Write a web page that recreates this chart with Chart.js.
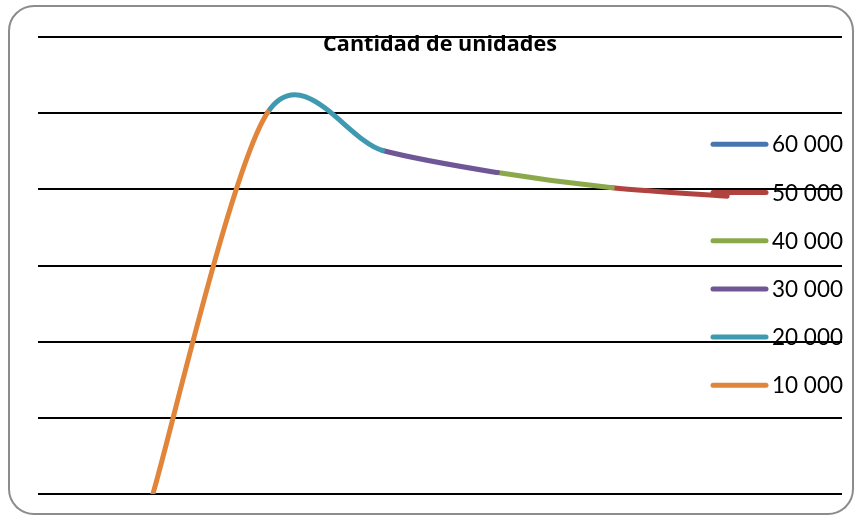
<!DOCTYPE html>
<html lang="es">
<head>
    <meta charset="UTF-8">
    <title>Cantidad de unidades</title>
    <script src="https://cdn.jsdelivr.net/npm/chart.js"></script>
    <style>
        body { margin: 0; background: #fff; }
        .wrap { position: relative; width: 859px; height: 518px; }
        .frame {
            position: absolute; left: 8px; top: 5px;
            width: 842px; height: 506px;
            border: 2px solid #8c8c8c; border-radius: 26px;
        }
        canvas { position: absolute; left: 0; top: 0; }
    </style>
</head>
<body>
    <div class="wrap">
        <div class="frame"></div>
        <canvas id="chart" width="859" height="518"></canvas>
    </div>

    <script>
        // Data (categories in source order; the x axis is shown reversed)
        const categories = ['60 000', '50 000', '40 000', '30 000', '20 000', '10 000'];
        const values = [39.1, 40.2, 42.2, 45.1, 50.1, 0];
        const colors = ['#4775b0', '#b0433f', '#8ba94b', '#6f5797', '#3f99b0', '#e0853a'];
        const yTicks = [0, 10, 20, 30, 40, 50, 60];
        const title = 'Cantidad de unidades';

        // Excel-like smoothing: uniform Catmull-Rom control points
        const excelSmooth = {
            id: 'excelSmooth',
            beforeDatasetDraw(chart, args) {
                const meta = args.meta;
                meta.dataset.updateControlPoints(chart.chartArea, meta.indexAxis);
                const pts = meta.data;
                pts.forEach((p, i) => {
                    const prev = pts[i - 1] || p;
                    const next = pts[i + 1] || p;
                    const dx = (next.x - prev.x) / 6.5;
                    const dy = (next.y - prev.y) / 6.5;
                    p.cp1x = p.x - dx; p.cp1y = p.y - dy;
                    p.cp2x = p.x + dx; p.cp2y = p.y + dy;
                });
            }
        };

        // Title and legend drawn over the plot, like the original
        const overlay = {
            id: 'overlay',
            afterDraw(chart) {
                const ctx = chart.ctx;
                ctx.save();
                ctx.fillStyle = '#000';
                ctx.font = 'bold 21.6px "Open Sans"';
                ctx.textAlign = 'center';
                ctx.textBaseline = 'alphabetic';
                ctx.fillText(title, 440, 51);

                ctx.font = '22.5px Lato';
                ctx.textAlign = 'left';
                ctx.lineCap = 'round';
                ctx.lineWidth = 5;
                categories.forEach((c, i) => {
                    const y = 144.3 + 48.2 * i;
                    ctx.strokeStyle = colors[i];
                    ctx.beginPath();
                    ctx.moveTo(713, y);
                    ctx.lineTo(766, y);
                    ctx.stroke();
                    ctx.fillText(c, 772, y + 8);
                });
                ctx.restore();
            }
        };

        new Chart(document.getElementById('chart'), {
            type: 'line',
            data: {
                labels: categories,
                datasets: [{
                    data: values.map((v, i) => ({ x: i + 1, y: v })),
                    borderWidth: 5,
                    borderCapStyle: 'round',
                    borderColor: colors[0],
                    tension: 0.4,
                    pointRadius: 0,
                    segment: {
                        borderColor: ctx => colors[ctx.p1DataIndex]
                    }
                }]
            },
            options: {
                responsive: false,
                animation: false,
                layout: { padding: { left: 38, right: 17, top: 37, bottom: 24 } },
                plugins: {
                    legend: { display: false },
                    title: { display: false },
                    tooltip: { enabled: false }
                },
                scales: {
                    x: {
                        type: 'linear',
                        min: 0,
                        max: categories.length + 1,
                        reverse: true,
                        display: false
                    },
                    y: {
                        min: yTicks[0],
                        max: yTicks[yTicks.length - 1],
                        afterBuildTicks: axis => { axis.ticks = yTicks.map(v => ({ value: v })); },
                        ticks: { display: false },
                        border: { display: false },
                        grid: { color: '#000', lineWidth: 2, drawTicks: false }
                    }
                }
            },
            plugins: [excelSmooth, overlay]
        });
    </script>
</body>
</html>
